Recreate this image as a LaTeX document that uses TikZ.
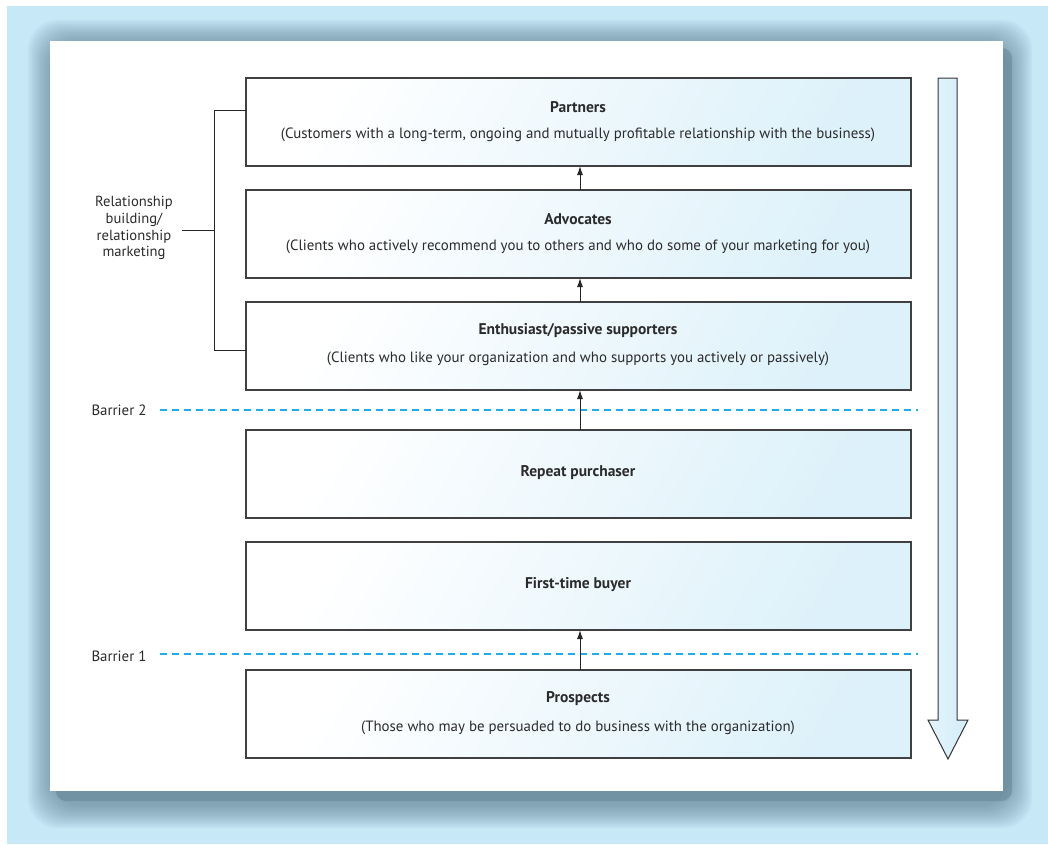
\documentclass[tikz,border=0pt]{standalone}
\usepackage{fontspec}
\setmainfont{PT Sans}
\usetikzlibrary{arrows.meta}
\definecolor{bgblue}{HTML}{C6E8F7}
\definecolor{shadowc}{HTML}{4F7082}
\definecolor{boxblue}{HTML}{DDF1FA}
\definecolor{txt}{HTML}{2B2B2B}
\definecolor{dashc}{HTML}{1AB0EC}
\definecolor{arrowblue}{HTML}{D2EDF9}
\tikzset{
  stage/.style={draw=black!75, line width=1.2pt, left color=white, right color=boxblue, shading angle=60},
  ttl/.style={font=\bfseries\fontsize{15.5}{18}\selectfont, text=txt},
  sub/.style={font=\fontsize{14.9}{17}\selectfont, text=txt},
  lbl/.style={font=\fontsize{14.6}{16.8}\selectfont, text=txt, align=center},
  up/.style={-{Latex[length=9pt,width=6pt]}, line width=1pt, draw=black!85},
  barrier/.style={dashc, line width=1.3pt, dash pattern=on 7pt off 5pt},
  brk/.style={line width=1pt, draw=black!85}
}
\begin{document}
\begin{tikzpicture}[x=1pt,y=-1pt]
\useasboundingbox (0,0) rectangle (1048,844);
\fill[white] (0,0) rectangle (1048,844);
\fill[bgblue] (7,6) rectangle (1048,844);
% shadow
\foreach \i in {0,...,11}{
  \fill[shadowc, fill opacity=0.06, rounded corners=30pt]
    (28+2*\i,20+2*\i) rectangle (1032-2*\i,828-2*\i);
}
\fill[shadowc, fill opacity=0.35, rounded corners=10pt] (56,48) rectangle (1012,801);
\fill[white] (50,41) rectangle (1003,791);
% boxes
\path[stage] (246,78) rectangle (911,166);
\path[stage] (246,190) rectangle (911,278);
\path[stage] (246,302) rectangle (911,390);
\path[stage] (246,430) rectangle (911,518);
\path[stage] (246,542) rectangle (911,630);
\path[stage] (246,670) rectangle (911,758);
\node[ttl] (ptitle) at (578,107) {Partners};
\node[sub] (psub) at (578,135) {(Customers with a long-term, ongoing and mutually profitable relationship with the business)};
\node[ttl] (atitle) at (578,219) {Advocates};
\node[sub] (asub) at (578,247) {(Clients who actively recommend you to others and who do some of your marketing for you)};
\node[ttl] (etitle) at (578,331) {Enthusiast/passive supporters};
\node[sub] (esub) at (578,359) {(Clients who like your organization and who supports you actively or passively)};
\node[ttl] (rtitle) at (578,473) {Repeat purchaser};
\node[ttl] (ftitle) at (578,585) {First-time buyer};
\node[ttl] (prtitle) at (578,699) {Prospects};
\node[sub] (prsub) at (578,728) {(Those who may be persuaded to do business with the organization)};
% box anchors
\coordinate (b1t) at (580,166); \coordinate (b2b) at (580,190);
\coordinate (b2t) at (580,278); \coordinate (b3b) at (580,302);
\coordinate (b3t) at (580,390); \coordinate (b4b) at (580,430);
\coordinate (b5t) at (580,630); \coordinate (b6b) at (580,670);
% barriers
\coordinate (bar2a) at (160,410); \coordinate (bar2b) at (918,410);
\coordinate (bar1a) at (160,654); \coordinate (bar1b) at (918,654);
\draw[barrier] (bar2a) -- (bar2b);
\draw[barrier] (bar1a) -- (bar1b);
\node[sub, anchor=east] (bar2) at (150,410) {Barrier 2};
\node[sub, anchor=east] (bar1) at (150,656) {Barrier 1};
% arrows
\draw[up] (b2b) -- (b1t);
\draw[up] (b3b) -- (b2t);
\draw[up] (b4b) -- (b3t);
\draw[up] (b6b) -- (b5t);
% bracket
\coordinate (k1) at (246,110); \coordinate (k2) at (246,350);
\coordinate (kt) at (214,110); \coordinate (kb) at (214,350);
\coordinate (km) at (214,230); \coordinate (kl) at (182,230);
\draw[brk] (k1) -- (kt) -- (kb) -- (k2);
\draw[brk] (km) -- (kl);
\node[lbl] (rel) at (134,228) {Relationship\\building/\\relationship\\marketing};
% big arrow
\path[draw=black!80, line width=1pt, left color=white!40!arrowblue, right color=arrowblue]
  (938,78) -- (957,78) -- (957,720) -- (968,720) -- (948,759) -- (928,720) -- (938,720) -- cycle;
\end{tikzpicture}
\end{document}
